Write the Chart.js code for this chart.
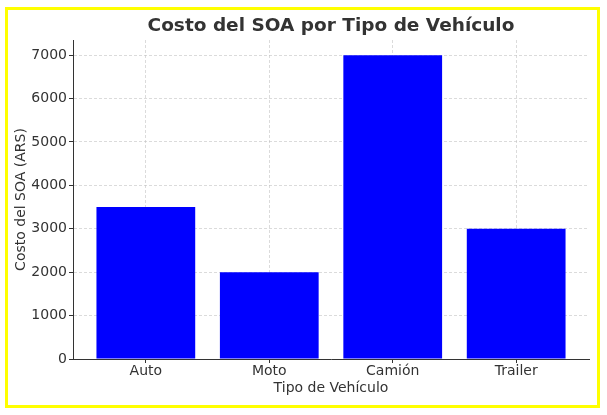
<!DOCTYPE html>
<html>
<head>
<meta charset="utf-8">
<script src="https://cdn.jsdelivr.net/npm/chart.js@4/dist/chart.umd.min.js"></script>
<style>
html,body{margin:0;padding:0;background:#fff;}
canvas{display:block;}
</style>
</head>
<body>
<canvas id="c" width="607" height="415"></canvas>
<script>
const categories = ['Auto', 'Moto', 'Camión', 'Trailer'];
const costs = [3500, 2000, 7000, 3000];
const yTicks = [0, 1000, 2000, 3000, 4000, 5000, 6000, 7000];
const titleText = 'Costo del SOA por Tipo de Vehículo';
const xTitle = 'Tipo de Vehículo';
const yTitle = 'Costo del SOA (ARS)';

const FONT = 'DejaVu Sans';
const gridColor = 'rgba(190,190,190,0.55)';
const dark = '#333333';

const frame = {
  id: 'frame',
  afterDraw(chart) {
    const ctx = chart.ctx;
    const a = chart.chartArea;
    ctx.save();
    ctx.fillStyle = dark;
    ctx.font = 'bold 18.5px "DejaVu Sans"';
    ctx.textAlign = 'center';
    ctx.textBaseline = 'middle';
    ctx.fillText(titleText, (a.left + a.right) / 2, 26.5);
    ctx.strokeStyle = '#ffff00';
    ctx.lineWidth = 3;
    ctx.strokeRect(6.5, 8.5, 592, 398);
    ctx.restore();
  }
};

new Chart(document.getElementById('c'), {
  type: 'bar',
  data: {
    datasets: [{
      data: costs.map((v, i) => ({x: i, y: v})),
      backgroundColor: '#0000ff',
      borderWidth: 0,
      barPercentage: 0.8,
      categoryPercentage: 1.0
    }]
  },
  options: {
    responsive: false,
    devicePixelRatio: 1,
    animation: false,
    layout: {padding: {left: 0, right: 18, top: 40, bottom: 0}},
    plugins: {
      legend: {display: false},
      tooltip: {enabled: false},
      title: {display: false}
    },
    scales: {
      x: {
        type: 'linear',
        min: -0.59,
        max: 3.59,
        offset: false,
        z: 1,
        afterBuildTicks: s => { s.ticks = categories.map((c, i) => ({value: i})); },
        afterFit: s => { s.height = 56; },
        grid: {
          offset: false,
          color: gridColor,
          lineWidth: 1,
          drawTicks: true,
          tickLength: 4,
          tickColor: dark,
          tickWidth: 1
        },
        border: {display: true, color: dark, width: 1, dash: [3, 2]},
        ticks: {
          color: dark,
          font: {family: FONT, size: 14},
          padding: -0.5,
          maxRotation: 0,
          autoSkip: false,
          callback: v => categories[v]
        },
        title: {
          display: true,
          text: xTitle,
          color: dark,
          font: {family: FONT, size: 14},
          padding: {top: 0, bottom: 18.6}
        }
      },
      y: {
        min: 0,
        max: 7350,
        z: 1,
        afterBuildTicks: s => { s.ticks = yTicks.map(v => ({value: v})); },
        afterFit: s => { s.width = 73; },
        grid: {
          color: gridColor,
          lineWidth: 1,
          drawTicks: true,
          tickLength: 4,
          tickColor: dark,
          tickWidth: 1
        },
        border: {display: true, color: dark, width: 1, dash: [3, 2]},
        ticks: {
          color: dark,
          font: {family: FONT, size: 14},
          padding: 2,
          callback: v => String(v)
        },
        title: {
          display: true,
          text: yTitle,
          color: dark,
          font: {family: FONT, size: 14},
          padding: {top: 12.6, bottom: 0}
        }
      }
    }
  },
  plugins: [frame]
});
</script>
</body>
</html>
